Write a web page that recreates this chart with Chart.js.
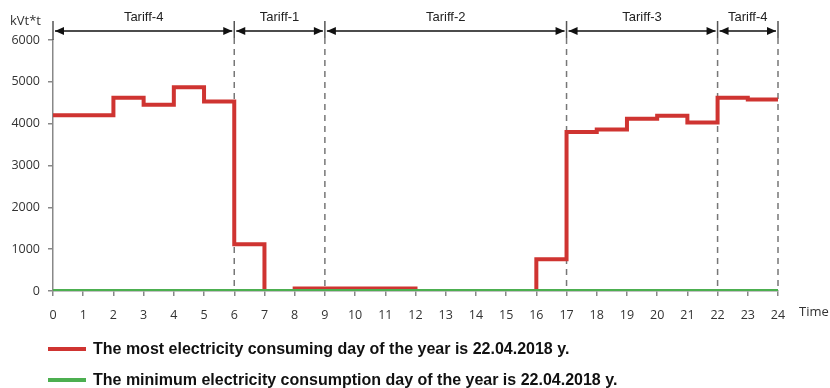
<!DOCTYPE html>
<html>
<head>
<meta charset="utf-8">
<script src="https://cdn.jsdelivr.net/npm/chart.js@4"></script>
<style>
  html, body { margin: 0; padding: 0; background: #fff; overflow: hidden; }
  #wrap { width: 830px; height: 388px; position: relative; }
</style>
</head>
<body>
<div id="wrap"><canvas id="myChart"></canvas></div>
<script>
// hours of the day (step starts)
const hours = [0, 1, 2, 3, 4, 5, 6, 7, 8, 9, 10, 11, 12, 13, 14, 15, 16, 17, 18, 19, 20, 21, 22, 23, 24];
// most consuming day, value for each hour interval (last point repeats to close the step)
const maxDay = [4200, 4200, 4620, 4450, 4870, 4530, 1120, 0, 60, 60, 60, 60, 0, 0, 0, 0, 760, 3800, 3860, 4120, 4190, 4030, 4620, 4580, 4580];
// minimum consumption day
const minDay = [0, 0, 0, 0, 0, 0, 0, 0, 0, 0, 0, 0, 0, 0, 0, 0, 0, 0, 0, 0, 0, 0, 0, 0, 0];

const tariffBounds = [0, 6, 9, 17, 22, 24];
const tariffNames = ['Tariff-4', 'Tariff-1', 'Tariff-2', 'Tariff-3', 'Tariff-4'];

const legendLabels = [
  'The most electricity consuming day of the year is 22.04.2018 y.',
  'The minimum electricity consumption day of the year is 22.04.2018 y.'
];

const RED = '#cf3431';
const GREEN = '#4caf50';

function toPoints(ys) {
  return hours.map((h, i) => ({ x: h, y: ys[i] }));
}

// tariff brackets, dashed separators, axis captions and legend
const tariffPlugin = {
  id: 'tariffs',
  beforeDatasetsDraw(chart) {
    const { ctx, chartArea, scales } = chart;
    ctx.save();
    ctx.strokeStyle = '#777';
    ctx.lineWidth = 1.5;
    ctx.setLineDash([6, 5]);
    tariffBounds.slice(1).forEach(b => {
      const x = scales.x.getPixelForValue(b);
      ctx.beginPath();
      ctx.moveTo(x, 38);
      ctx.lineTo(x, chartArea.bottom);
      ctx.stroke();
    });
    ctx.restore();
  },
  afterDraw(chart) {
    const { ctx, chartArea, scales } = chart;
    const ay = 31;
    ctx.save();
    // solid ticks of brackets
    ctx.strokeStyle = '#555';
    ctx.lineWidth = 1.5;
    tariffBounds.forEach((b, i) => {
      const x = scales.x.getPixelForValue(b);
      ctx.beginPath();
      ctx.moveTo(x, 21);
      ctx.lineTo(x, i === 0 ? chartArea.top : 38);
      ctx.stroke();
    });
    // arrows
    ctx.strokeStyle = '#111';
    ctx.fillStyle = '#111';
    ctx.lineWidth = 1.3;
    for (let i = 0; i < tariffNames.length; i++) {
      const x1 = scales.x.getPixelForValue(tariffBounds[i]) + 2;
      const x2 = scales.x.getPixelForValue(tariffBounds[i + 1]) - 2;
      ctx.beginPath();
      ctx.moveTo(x1, ay);
      ctx.lineTo(x2, ay);
      ctx.stroke();
      ctx.beginPath();
      ctx.moveTo(x1, ay);
      ctx.lineTo(x1 + 9, ay - 4);
      ctx.lineTo(x1 + 9, ay + 4);
      ctx.closePath();
      ctx.fill();
      ctx.beginPath();
      ctx.moveTo(x2, ay);
      ctx.lineTo(x2 - 9, ay - 4);
      ctx.lineTo(x2 - 9, ay + 4);
      ctx.closePath();
      ctx.fill();
      ctx.font = '13px "Liberation Sans", Arial, sans-serif';
      ctx.fillStyle = '#222';
      ctx.textAlign = 'center';
      ctx.textBaseline = 'middle';
      ctx.fillText(tariffNames[i], (x1 + x2) / 2, 17);
      ctx.fillStyle = '#111';
    }
    // axis captions
    ctx.font = '13px "Open Sans", sans-serif';
    ctx.fillStyle = '#333';
    ctx.textAlign = 'left';
    ctx.textBaseline = 'middle';
    ctx.fillText('kVt*t', 10, 21);
    ctx.fillText('Time', 799, 312);
    // legend
    const rows = [349, 380];
    chart.data.datasets.forEach(ds => {
      const y = rows[ds.legendRow];
      ctx.strokeStyle = ds.borderColor;
      ctx.lineWidth = 4;
      ctx.beginPath();
      ctx.moveTo(48, y);
      ctx.lineTo(86, y);
      ctx.stroke();
      ctx.font = 'bold 16px "Liberation Sans", Arial, sans-serif';
      ctx.fillStyle = '#111';
      ctx.fillText(ds.label, 93, y + 1);
    });
    ctx.restore();
  }
};

const ctx = document.getElementById('myChart').getContext('2d');
const myChart = new Chart(ctx, {
  type: 'line',
  data: {
    datasets: [
      {
        label: legendLabels[0],
        data: toPoints(maxDay),
        borderColor: RED,
        backgroundColor: RED,
        borderWidth: 4,
        stepped: 'before',
        pointRadius: 0,
        order: 1,
        legendRow: 0
      },
      {
        label: legendLabels[1],
        data: toPoints(minDay),
        borderColor: GREEN,
        backgroundColor: GREEN,
        borderWidth: 4,
        pointRadius: 0,
        order: 0,
        legendRow: 1
      }
    ]
  },
  options: {
    responsive: true,
    maintainAspectRatio: false,
    animation: false,
    layout: { padding: { left: 0, right: 52, top: 40, bottom: 67 } },
    plugins: {
      legend: { display: false },
      tooltip: { enabled: false }
    },
    scales: {
      x: {
        type: 'linear',
        min: 0,
        max: 24,
        afterFit: s => { s.height = 30; },
        ticks: {
          stepSize: 1,
          padding: 12,
          color: '#333',
          font: { family: '"Open Sans", sans-serif', size: 12.5 }
        },
        grid: { drawOnChartArea: false, drawTicks: true, tickLength: 5, color: '#888', lineWidth: 1.5 },
        border: { display: true, color: '#888', width: 1.5 }
      },
      y: {
        min: 0,
        max: 6000,
        afterFit: s => { s.width = 53; },
        ticks: {
          stepSize: 1000,
          padding: 8,
          color: '#333',
          font: { family: '"Open Sans", sans-serif', size: 12.5 },
          callback: v => String(v)
        },
        grid: { drawOnChartArea: false, drawTicks: true, tickLength: 5, color: '#888', lineWidth: 1.5 },
        border: { display: true, color: '#888', width: 1.5 }
      }
    }
  },
  plugins: [tariffPlugin]
});
</script>
</body>
</html>
